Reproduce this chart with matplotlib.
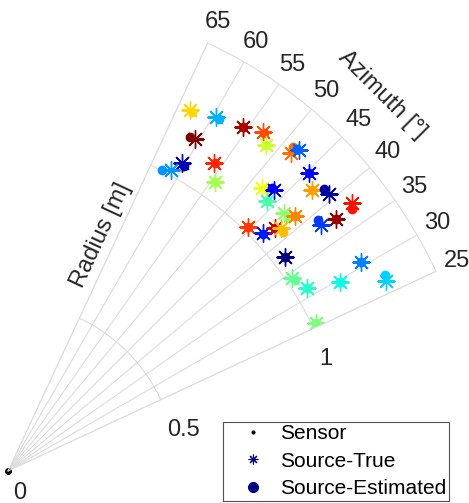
import numpy as np
import matplotlib.pyplot as plt
from matplotlib.lines import Line2D

plt.rcParams['font.family'] = ['Liberation Sans', 'DejaVu Sans']

# source positions: azimuth in degrees, radius in metres
az_true = [63.3, 59.6, 55.7, 60.7, 53.0, 51.7, 48.4, 47.8, 44.7, 42.7, 40.8, 37.9,
           37.5, 38.1, 60.6, 61.6, 56.2, 54.4, 48.1, 46.5, 46.2, 45.4, 43.1, 42.4,
           43.0, 41.7, 41.6, 37.7, 34.1, 31.5, 29.6, 30.6, 26.7, 25.6]
r_true = [1.199, 1.217, 1.235, 1.130, 1.257, 1.232, 1.262, 1.286, 1.257, 1.227, 1.259, 1.294,
          1.226, 1.180, 1.049, 1.013, 1.100, 1.052, 1.129, 1.147, 1.111, 1.015, 1.034, 1.070,
          1.120, 1.138, 1.083, 1.036, 1.018, 1.041, 1.133, 1.216, 1.256, 1.014]
az_est = [62.9, 59.1, 55.7, 61.5, 52.9, 51.7, 48.6, 48.1, 44.7, 42.7, 41.8, 37.3,
          37.5, 39.0, 60.1, 62.8, 56.1, 54.4, 47.3, 46.9, 46.2, 45.4, 42.8, 42.4,
          42.1, 41.7, 40.9, 37.7, 33.6, 31.5, 29.6, 30.6, 27.5, 25.6]
r_est = [1.196, 1.217, 1.235, 1.128, 1.257, 1.232, 1.279, 1.284, 1.257, 1.227, 1.255, 1.283,
         1.226, 1.184, 1.044, 1.002, 1.100, 1.052, 1.135, 1.147, 1.111, 1.015, 1.032, 1.070,
         1.117, 1.138, 1.080, 1.036, 1.022, 1.041, 1.133, 1.216, 1.261, 1.014]
# colour of each source on the jet scale
cval = [0.68, 0.30, 0.96, 1.00, 0.83, 0.60, 0.79, 0.22, 0.13, 0.74, 0.03, 0.89,
        0.98, 0.18, 0.05, 0.27, 0.87, 0.55, 0.64, 0.10, 0.44, 0.85, 0.15, 0.93,
        0.52, 0.77, 0.71, 0.00, 0.47, 0.40, 0.37, 0.25, 0.33, 0.50]

az_ticks = list(range(25, 70, 5))
r_ticks = [0, 0.5, 1]
r_max = 1.4

txt = '#262626'
gcol = '#dcdcdc'

fig = plt.figure(figsize=(4.69, 5.03), dpi=100)
ax = fig.add_axes([8/469, 32/503, 428/469, 428/503], projection='polar')
ax.set_thetamin(25)
ax.set_thetamax(65)
ax.set_rlim(0, r_max)
ax.set_thetagrids(az_ticks, [str(a) for a in az_ticks], fontsize=17, color=txt)
ax.set_rticks(r_ticks[1:])
ax.set_yticklabels([])
ax.tick_params(axis='both', length=0)
ax.tick_params(axis='x', pad=10)
ax.grid(color=gcol, lw=0.8)
for sp in ax.spines.values():
    sp.set_color(gcol)
    sp.set_linewidth(0.8)

# radius labels under the 25 deg edge
r_offs = [(5, -11), (6, -19), (6, -20)]
for rv, off in zip(r_ticks, r_offs):
    ax.annotate(f'{rv:g}', xy=(np.deg2rad(25), rv), xytext=off,
                textcoords='offset pixels', ha='left', va='top',
                fontsize=17, color=txt, annotation_clip=False)

ax.text(np.deg2rad(45.2), 1.574, 'Azimuth [°]', rotation=-45, ha='center', va='center',
        fontsize=17, color=txt)
ax.text(np.deg2rad(68.5), 0.751, 'Radius [m]', rotation=65, ha='center', va='center',
        fontsize=17, color=txt)

cmap = plt.get_cmap('jet')
for i in range(len(cval)):
    c = cmap(cval[i])
    ax.plot(np.deg2rad(az_true[i]), r_true[i], marker=(8, 2, 0), ms=13, mew=1,
            color=c, ls='none')
    ax.plot(np.deg2rad(az_est[i]), r_est[i], 'o', ms=7, color=c, mec='none')

# sensor at the origin
ax.plot(0, 0, 'o', ms=4, color='k', clip_on=False)

navy = cmap(0.0)
handles = [Line2D([], [], marker='o', ms=2, color='k', ls='none'),
           Line2D([], [], marker=(8, 2, 0), ms=7, mew=0.8, color=navy, ls='none'),
           Line2D([], [], marker='o', ms=7, color=navy, ls='none')]
leg = fig.legend(handles, ['Sensor', 'Source-True', 'Source-Estimated'],
                 loc='lower right', bbox_to_anchor=(449/469, 2/503), borderaxespad=0,
                 fontsize=15, frameon=True, fancybox=False, handlelength=2.7,
                 handletextpad=-0.05, labelspacing=0.42, borderpad=0.12)
leg.get_frame().set_edgecolor('#262626')
leg.get_frame().set_linewidth(0.8)
for t in leg.get_texts():
    t.set_color('k')

fig.savefig('out.png', dpi=100)
